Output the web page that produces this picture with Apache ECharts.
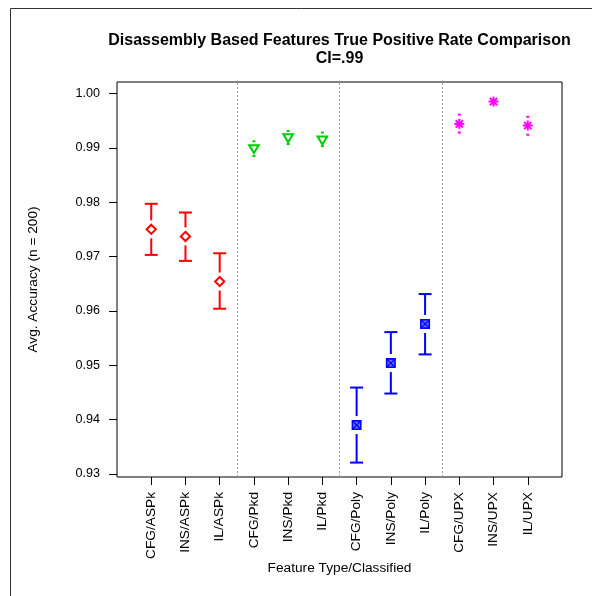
<!DOCTYPE html>
<html>
<head>
<meta charset="utf-8">
<script src="https://cdn.jsdelivr.net/npm/echarts@6/dist/echarts.min.js"></script>
<style>
  html, body { margin: 0; padding: 0; background: #fff; }
  #chart { width: 592px; height: 596px; }
</style>
</head>
<body>
<div id="chart"></div>
<script>
// Feature type / classifier pairs along the x axis
const categories = [
  'CFG/ASPk', 'INS/ASPk', 'IL/ASPk',
  'CFG/Pkd', 'INS/Pkd', 'IL/Pkd',
  'CFG/Poly', 'INS/Poly', 'IL/Poly',
  'CFG/UPX', 'INS/UPX', 'IL/UPX'
];
// Packer groups: each spans three consecutive categories
const groupNames = ['ASPk', 'Pkd', 'Poly', 'UPX'];
const groupSizes = [3, 3, 3, 3];

// Average accuracy and 99% confidence bounds
const meanAcc = [0.9750, 0.9737, 0.9654, 0.9899, 0.9919, 0.9915, 0.9390, 0.9504, 0.9576, 0.9944, 0.9985, 0.9941];
const lowerCI = [0.9703, 0.9692, 0.9604, 0.9885, 0.9907, 0.9903, 0.9321, 0.9448, 0.9520, 0.9928, 0.9982, 0.9924];
const upperCI = [0.9797, 0.9781, 0.9706, 0.9912, 0.9931, 0.9928, 0.9459, 0.9561, 0.9631, 0.9961, 0.9988, 0.9957];

// Y axis tick labels
const yTicks = [0.93, 0.94, 0.95, 0.96, 0.97, 0.98, 0.99, 1.00];

const groupColors = ['#ff0000', '#00cd00', '#0000ff', '#ff00ff'];

// group index of each category
const groupOf = [];
groupSizes.forEach((n, g) => { for (let k = 0; k < n; k++) groupOf.push(g); });

// separators between groups
const separators = [];
let acc = 0;
groupSizes.slice(0, -1).forEach(n => { acc += n; separators.push(acc + 0.5); });

const seriesData = categories.map((c, i) => [i + 1, meanAcc[i], lowerCI[i], upperCI[i], groupOf[i]]);

function markerShape(g, cx, cy, color) {
  const st = { stroke: color, lineWidth: 2, fill: null };
  if (g === 0) {
    const r = 4.6;
    return [{ type: 'polygon', shape: { points: [[cx, cy - r], [cx + r, cy], [cx, cy + r], [cx - r, cy]] }, style: Object.assign({}, st, { fill: '#fff' }) }];
  }
  if (g === 1) {
    return [{ type: 'polygon', shape: { points: [[cx - 4.8, cy - 3.2], [cx + 4.8, cy - 3.2], [cx, cy + 4.8]] }, style: Object.assign({}, st, { fill: '#fff' }) }];
  }
  if (g === 2) {
    const h = 4.2;
    return [
      { type: 'rect', shape: { x: cx - h, y: cy - h, width: 2 * h, height: 2 * h }, style: { stroke: color, lineWidth: 1.6, fill: '#6a6aff' } },
      { type: 'line', shape: { x1: cx - h, y1: cy - h, x2: cx + h, y2: cy + h }, style: { stroke: color, lineWidth: 1.2 } },
      { type: 'line', shape: { x1: cx + h, y1: cy - h, x2: cx - h, y2: cy + h }, style: { stroke: color, lineWidth: 1.2 } }
    ];
  }
  // asterisk
  const a = 5, d = 3.6;
  return [
    { type: 'line', shape: { x1: cx, y1: cy - a, x2: cx, y2: cy + a }, style: { stroke: color, lineWidth: 2 } },
    { type: 'line', shape: { x1: cx - a, y1: cy, x2: cx + a, y2: cy }, style: { stroke: color, lineWidth: 2 } },
    { type: 'line', shape: { x1: cx - d, y1: cy - d, x2: cx + d, y2: cy + d }, style: { stroke: color, lineWidth: 2 } },
    { type: 'line', shape: { x1: cx + d, y1: cy - d, x2: cx - d, y2: cy + d }, style: { stroke: color, lineWidth: 2 } }
  ];
}

function renderCI(params, api) {
  const x = api.value(0);
  const g = api.value(4);
  const color = groupColors[g];
  const c = api.coord([x, api.value(1)]);
  const lo = api.coord([x, api.value(2)]);
  const hi = api.coord([x, api.value(3)]);
  const gap = 9, cap = 6.5, minLen = 12;
  const children = [];
  const lineStyle = { stroke: color, lineWidth: 2 };
  // upper whisker
  if (c[1] - hi[1] > minLen) {
    children.push({ type: 'line', shape: { x1: c[0], y1: hi[1], x2: c[0], y2: c[1] - gap }, style: lineStyle });
    children.push({ type: 'line', shape: { x1: c[0] - cap, y1: hi[1], x2: c[0] + cap, y2: hi[1] }, style: lineStyle });
  } else {
    children.push({ type: 'rect', shape: { x: c[0] - 1.5, y: hi[1] - 1, width: 3, height: 2 }, style: { fill: color } });
  }
  // lower whisker
  if (lo[1] - c[1] > minLen) {
    children.push({ type: 'line', shape: { x1: c[0], y1: c[1] + gap, x2: c[0], y2: lo[1] }, style: lineStyle });
    children.push({ type: 'line', shape: { x1: c[0] - cap, y1: lo[1], x2: c[0] + cap, y2: lo[1] }, style: lineStyle });
  } else {
    children.push({ type: 'rect', shape: { x: c[0] - 1.5, y: lo[1] - 1, width: 3, height: 2 }, style: { fill: color } });
  }
  markerShape(g, c[0], c[1], color).forEach(s => children.push(s));
  return { type: 'group', children: children };
}

const chart = echarts.init(document.getElementById('chart'), null, { renderer: 'canvas' });

const fontFamily = '"Liberation Sans", Arial, Helvetica, sans-serif';
const gridLeft = 117, gridTop = 82, gridRight = 562, gridBottom = 477;
const plotCenterX = (gridLeft + gridRight) / 2;

chart.setOption({
  animation: false,
  backgroundColor: '#fff',
  textStyle: { fontFamily: fontFamily },
  grid: {
    left: gridLeft, top: gridTop, width: gridRight - gridLeft, height: gridBottom - gridTop,
    show: true, borderColor: '#000', borderWidth: 1, backgroundColor: 'transparent'
  },
  xAxis: {
    type: 'value', min: 0, max: 13,
    axisLine: { show: false },
    splitLine: { show: false },
    axisTick: { show: true, length: 8, lineStyle: { color: '#000', width: 1 }, customValues: categories.map((c, i) => i + 1) },
    axisLabel: {
      show: true, rotate: 90, margin: 15, fontSize: 13.7, color: '#000', fontFamily: fontFamily,
      customValues: categories.map((c, i) => i + 1),
      formatter: v => categories[Math.round(v) - 1] || ''
    }
  },
  yAxis: {
    type: 'value', min: 0.92945, max: 1.0021,
    axisLine: { show: false },
    splitLine: { show: false },
    axisTick: { show: true, length: 8, lineStyle: { color: '#000', width: 1 }, customValues: yTicks },
    axisLabel: {
      show: true, margin: 17, fontSize: 12.6, color: '#000', fontFamily: fontFamily,
      customValues: yTicks,
      formatter: v => v.toFixed(2)
    }
  },
  series: [
    {
      type: 'custom',
      renderItem: renderCI,
      data: seriesData,
      encode: { x: 0, y: [1, 2, 3] },
      clip: false,
      z: 3,
      markLine: {
        silent: true,
        symbol: 'none',
        label: { show: false },
        lineStyle: { color: '#999', type: [2, 2], width: 1 },
        data: separators.map(s => ({ xAxis: s }))
      }
    }
  ],
  graphic: [
    // outer frame lines
    { type: 'line', shape: { x1: 10.5, y1: 8.5, x2: 592, y2: 8.5 }, style: { stroke: '#333', lineWidth: 1 } },
    { type: 'line', shape: { x1: 10.5, y1: 8.5, x2: 10.5, y2: 596 }, style: { stroke: '#333', lineWidth: 1 } },
    {
      type: 'text', x: plotCenterX, y: 41,
      style: { text: 'Disassembly Based Features True Positive Rate Comparison', font: 'bold 16px ' + fontFamily, fill: '#000', textAlign: 'center', textVerticalAlign: 'middle' }
    },
    {
      type: 'text', x: plotCenterX, y: 59,
      style: { text: 'CI=.99', font: 'bold 16px ' + fontFamily, fill: '#000', textAlign: 'center', textVerticalAlign: 'middle' }
    },
    {
      type: 'text', x: plotCenterX, y: 568,
      style: { text: 'Feature Type/Classified', font: '13.7px ' + fontFamily, fill: '#000', textAlign: 'center', textVerticalAlign: 'middle' }
    },
    {
      type: 'text', x: 33, y: (gridTop + gridBottom) / 2, rotation: Math.PI / 2,
      style: { text: 'Avg. Accuracy (n = 200)', font: '13.7px ' + fontFamily, fill: '#000', textAlign: 'center', textVerticalAlign: 'middle' }
    }
  ]
});
</script>
</body>
</html>
